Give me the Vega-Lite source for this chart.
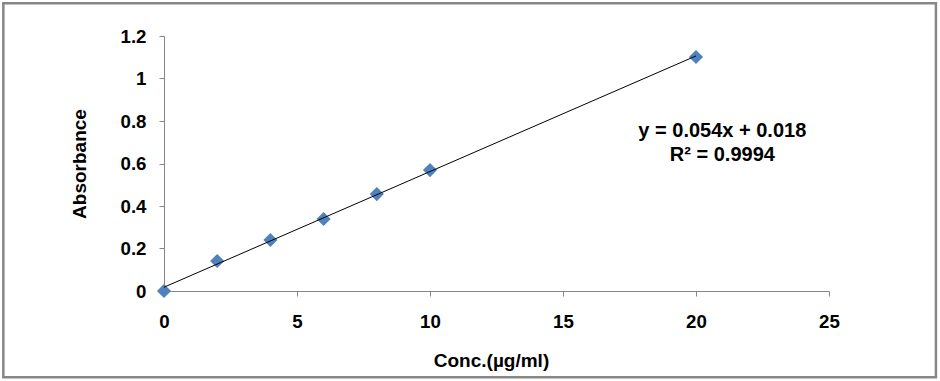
{
  "$schema": "https://vega.github.io/schema/vega-lite/v6.json",
  "width": 665,
  "height": 255,
  "autosize": {"type": "none"},
  "padding": {"left": 164, "top": 36, "right": 111, "bottom": 90},
  "background": "white",
  "config": {
    "view": {"stroke": null},
    "font": "Liberation Sans",
    "axis": {
      "grid": false,
      "domainColor": "#868686",
      "domainWidth": 1,
      "tickColor": "#868686",
      "tickSize": 5,
      "labelFlush": false,
      "labelFont": "Liberation Sans",
      "labelFontWeight": "bold",
      "labelFontSize": 18.7,
      "labelColor": "black",
      "titleFont": "Liberation Sans",
      "titleFontWeight": "bold",
      "titleFontSize": 19,
      "titleColor": "black"
    }
  },
  "data": {
    "values": [
      {"conc": 0, "abs": 0},
      {"conc": 2, "abs": 0.141},
      {"conc": 4, "abs": 0.24},
      {"conc": 6, "abs": 0.339},
      {"conc": 8, "abs": 0.456},
      {"conc": 10, "abs": 0.569},
      {"conc": 20, "abs": 1.101}
    ]
  },
  "layer": [
    {
      "data": {"values": [{}]},
      "mark": {"type": "rect", "filled": false, "stroke": "#878787", "strokeWidth": 2.5, "fill": null, "clip": false},
      "encoding": {
        "x": {"datum": -6.04, "type": "quantitative", "scale": {"domain": [0, 25], "nice": false, "zero": false}},
        "x2": {"datum": 29.02},
        "y": {"datum": 1.354, "type": "quantitative", "scale": {"domain": [0, 1.2], "nice": false, "zero": false}},
        "y2": {"datum": -0.406}
      }
    },
    {
      "mark": {"type": "point", "shape": "diamond", "filled": true, "size": 200, "color": "#4F81BD", "opacity": 1},
      "encoding": {
        "x": {
          "field": "conc", "type": "quantitative",
          "scale": {"domain": [0, 25], "nice": false, "zero": false},
          "axis": {"title": "Conc.(µg/ml)", "values": [0, 5, 10, 15, 20, 25], "format": "d", "labelPadding": 16, "titlePadding": 21, "titleX": 327}
        },
        "y": {
          "field": "abs", "type": "quantitative",
          "scale": {"domain": [0, 1.2], "nice": false, "zero": false},
          "axis": {"title": "Absorbance", "values": [0, 0.2, 0.4, 0.6, 0.8, 1, 1.2], "format": "~g", "labelPadding": 13, "titlePadding": 31}
        }
      }
    },
    {
      "transform": [{"regression": "abs", "on": "conc"}],
      "mark": {"type": "line", "color": "black", "strokeWidth": 1},
      "encoding": {
        "x": {"field": "conc", "type": "quantitative"},
        "y": {"field": "abs", "type": "quantitative"}
      }
    },
    {
      "data": {"values": [{}]},
      "mark": {"type": "text", "font": "Liberation Sans", "fontWeight": "bold", "fontSize": 20, "align": "center", "baseline": "middle", "lineHeight": 24, "color": "black"},
      "encoding": {
        "x": {"datum": 20.99, "type": "quantitative"},
        "y": {"datum": 0.755, "type": "quantitative"},
        "text": {"value": ["y = 0.054x + 0.018", "R² = 0.9994"]}
      }
    }
  ]
}
